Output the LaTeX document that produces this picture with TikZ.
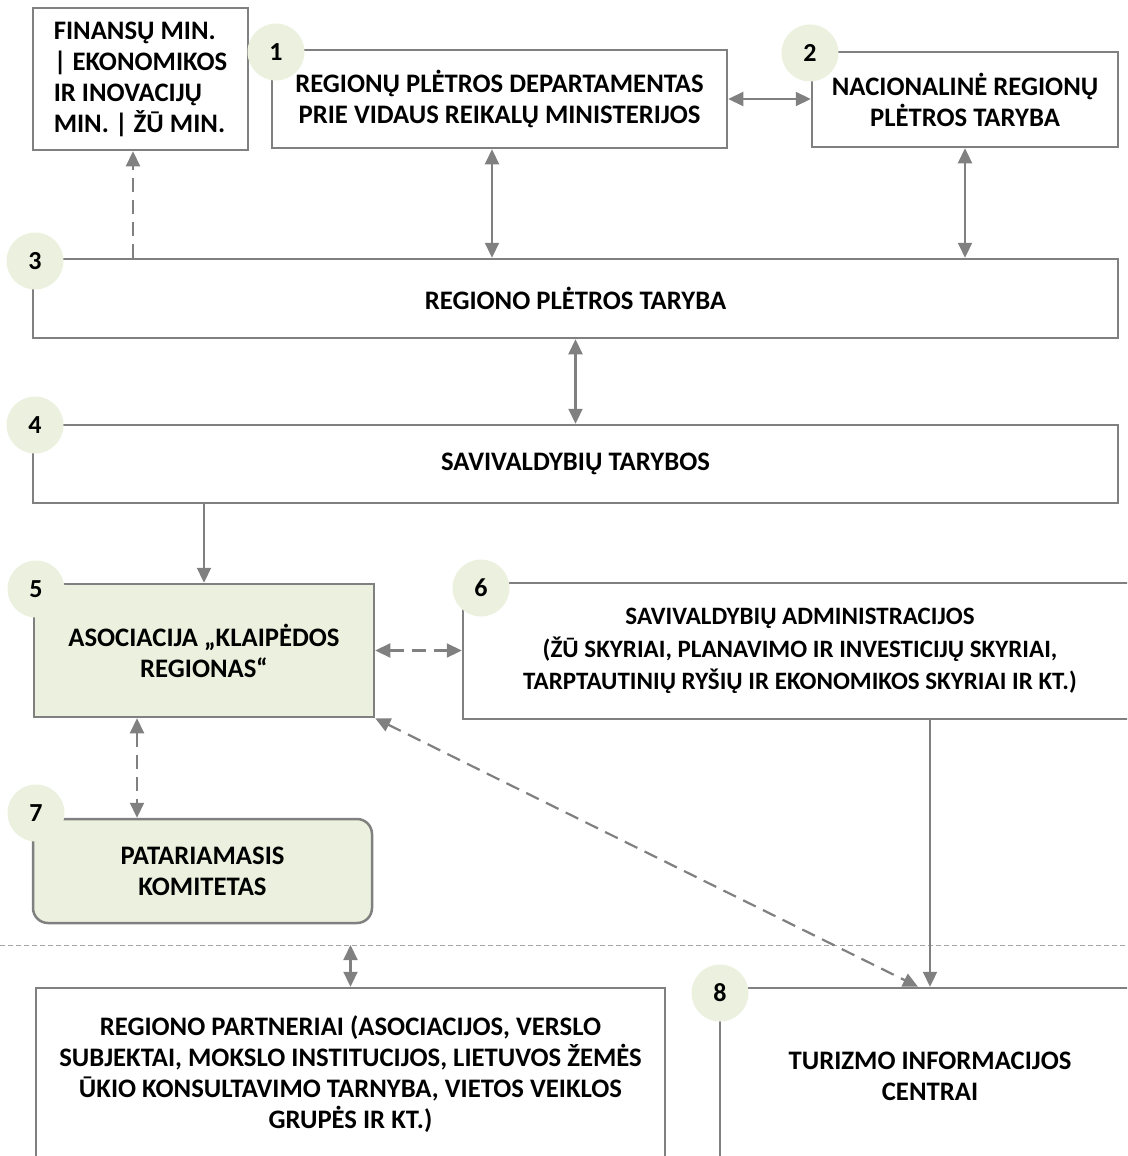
\documentclass[tikz,border=0pt]{standalone}
\usepackage{fontspec}
\setmainfont{Carlito}
\usetikzlibrary{arrows.meta, positioning}
\definecolor{linegray}{RGB}{128,128,128}
\definecolor{sepgray}{RGB}{165,165,165}
\definecolor{lightgreen}{RGB}{235,241,222}

\tikzset{
  box/.style={draw=linegray, line width=2.5pt, align=center, inner sep=0pt,
    font=\bfseries\fontsize{26.7}{31}\selectfont},
  greenbox/.style={box, fill=lightgreen},
  num/.style={circle, fill=lightgreen, minimum size=57pt, inner sep=0pt,
    font=\bfseries\fontsize{26}{28}\selectfont},
  link/.style={draw=linegray, line width=2.2pt},
  dashlink/.style={link, dash pattern=on 14pt off 8pt},
  sepline/.style={draw=sepgray, line width=1pt, dash pattern=on 5pt off 3pt}
}

\begin{document}
\begin{tikzpicture}[x=1pt,y=-1pt,>={Triangle[length=15pt,width=14pt]}]
    \useasboundingbox (0,0) rectangle (1127,1156);
    \clip (0,0) rectangle (1127,1156);
    % boxes
    \node[box,align=left,minimum width=215pt,minimum height=142pt] (fin) at (140.5,79)
      {FINANSŲ MIN.\\| EKONOMIKOS\\IR INOVACIJŲ\\MIN. | ŽŪ MIN.};
    \node[box,minimum width=455pt,minimum height=98pt] (dep) at (499.5,99)
      {REGIONŲ PLĖTROS DEPARTAMENTAS\\PRIE VIDAUS REIKALŲ MINISTERIJOS};
    \node[box,minimum width=306pt,minimum height=95pt] (nrpt) at (965,99.5)
      {NACIONALINĖ REGIONŲ\\PLĖTROS TARYBA};
    \node[box,minimum width=1085pt,minimum height=79pt] (rpt) at (575.5,298.5)
      {REGIONO PLĖTROS TARYBA};
    \node[box,minimum width=1085pt,minimum height=78pt] (sav) at (575.5,464)
      {SAVIVALDYBIŲ TARYBOS};
    \node[greenbox,minimum width=340pt,minimum height=133pt] (asoc) at (204,650.5)
      {ASOCIACIJA „KLAIPĖDOS\\REGIONAS“};
    \node[box,minimum width=674pt,minimum height=136pt,font=\bfseries\fontsize{25}{32.5}\selectfont] (adm) at (800,651)
      {SAVIVALDYBIŲ ADMINISTRACIJOS\\(ŽŪ SKYRIAI, PLANAVIMO IR INVESTICIJŲ SKYRIAI,\\TARPTAUTINIŲ RYŠIŲ IR EKONOMIKOS SKYRIAI IR KT.)};
    \node[greenbox,rounded corners=15pt,minimum width=339pt,minimum height=104pt] (kom) at (202.5,871)
      {PATARIAMASIS\\KOMITETAS};
    \node[box,minimum width=629pt,minimum height=172pt] (part) at (350.5,1074)
      {REGIONO PARTNERIAI (ASOCIACIJOS, VERSLO\\SUBJEKTAI, MOKSLO INSTITUCIJOS, LIETUVOS ŽEMĖS\\ŪKIO KONSULTAVIMO TARNYBA, VIETOS VEIKLOS\\GRUPĖS IR KT.)};
    \node[box,minimum width=420pt,minimum height=176pt] (tic) at (930,1076)
      {TURIZMO INFORMACIJOS\\CENTRAI};
    % separator
    \coordinate (sepL) at (0,945);
    \coordinate (sepR) at (1127,945);
    \draw[sepline] (sepL) -- (sepR);
    % connectors
    \draw[link,<->] (dep.east) -- (dep.east -| nrpt.west);
    \draw[link,<->] ([xshift=-7.5pt]dep.south) -- ([xshift=-7.5pt]dep.south |- rpt.north);
    \draw[link,<->] (nrpt.south) -- (nrpt.south |- rpt.north);
    \draw[dashlink,->] ([xshift=-7.5pt]fin.south |- rpt.north) -- ([xshift=-7.5pt]fin.south);
    \draw[link,<->] (rpt.south) -- (rpt.south |- sav.north);
    \draw[link,->] (asoc.north |- sav.south) -- (asoc.north);
    \draw[dashlink,<->] (asoc.east) -- (asoc.east -| adm.west);
    \draw[dashlink,<->] ([xshift=-67pt]asoc.south) -- ([xshift=-67pt]asoc.south |- kom.north);
    \draw[link,->] (tic.north |- adm.south) -- (tic.north);
    \draw[dashlink,<->] (asoc.south east) -- ([xshift=-12pt]tic.north);
    \draw[link,<->] (part.north |- sepL) -- (part.north);
    % numbers
    \node[num] (c1) at (276,52) {1};
    \node[num] (c2) at (810,53) {2};
    \node[num] (c3) at (35,261) {3};
    \node[num] (c4) at (35,425) {4};
    \node[num] (c5) at (36,589) {5};
    \node[num] (c6) at (481,588) {6};
    \node[num] (c7) at (36,813) {7};
    \node[num] (c8) at (720,993) {8};
\end{tikzpicture}
\end{document}
